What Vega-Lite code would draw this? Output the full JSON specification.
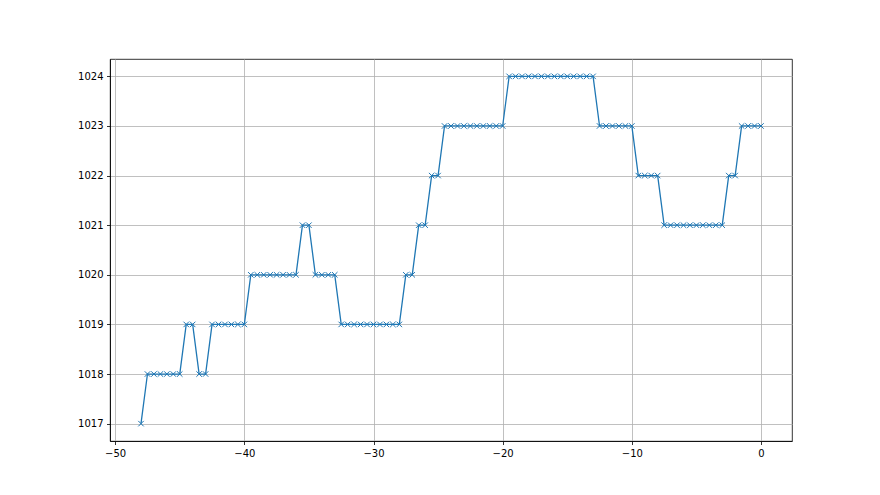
{
  "$schema": "https://vega.github.io/schema/vega-lite/v6.json",
  "autosize": {"type": "none"},
  "width": 682,
  "height": 382,
  "padding": {"left": 110, "top": 59, "right": 88, "bottom": 54},
  "background": "white",
  "config": {
    "view": {"stroke": "#000000", "strokeWidth": 0.8},
    "axis": {
      "labelFont": "DejaVu Sans",
      "labelFontSize": 10,
      "labelColor": "#000000",
      "domainColor": "#000000",
      "domainWidth": 0.8,
      "tickColor": "#000000",
      "tickSize": 3.5,
      "tickWidth": 0.8,
      "gridColor": "#b0b0b0",
      "gridWidth": 0.8,
      "labelPadding": 3.5,
      "title": null
    }
  },
  "data": {
    "values": [
      {"x": -48, "y": 1017},
      {"x": -47.5, "y": 1018}, {"x": -47, "y": 1018}, {"x": -46.5, "y": 1018}, {"x": -46, "y": 1018}, {"x": -45.5, "y": 1018}, {"x": -45, "y": 1018},
      {"x": -44.5, "y": 1019}, {"x": -44, "y": 1019},
      {"x": -43.5, "y": 1018}, {"x": -43, "y": 1018},
      {"x": -42.5, "y": 1019}, {"x": -42, "y": 1019}, {"x": -41.5, "y": 1019}, {"x": -41, "y": 1019}, {"x": -40.5, "y": 1019}, {"x": -40, "y": 1019},
      {"x": -39.5, "y": 1020}, {"x": -39, "y": 1020}, {"x": -38.5, "y": 1020}, {"x": -38, "y": 1020}, {"x": -37.5, "y": 1020}, {"x": -37, "y": 1020}, {"x": -36.5, "y": 1020}, {"x": -36, "y": 1020},
      {"x": -35.5, "y": 1021}, {"x": -35, "y": 1021},
      {"x": -34.5, "y": 1020}, {"x": -34, "y": 1020}, {"x": -33.5, "y": 1020}, {"x": -33, "y": 1020},
      {"x": -32.5, "y": 1019}, {"x": -32, "y": 1019}, {"x": -31.5, "y": 1019}, {"x": -31, "y": 1019}, {"x": -30.5, "y": 1019}, {"x": -30, "y": 1019}, {"x": -29.5, "y": 1019}, {"x": -29, "y": 1019}, {"x": -28.5, "y": 1019}, {"x": -28, "y": 1019},
      {"x": -27.5, "y": 1020}, {"x": -27, "y": 1020},
      {"x": -26.5, "y": 1021}, {"x": -26, "y": 1021},
      {"x": -25.5, "y": 1022}, {"x": -25, "y": 1022},
      {"x": -24.5, "y": 1023}, {"x": -24, "y": 1023}, {"x": -23.5, "y": 1023}, {"x": -23, "y": 1023}, {"x": -22.5, "y": 1023}, {"x": -22, "y": 1023}, {"x": -21.5, "y": 1023}, {"x": -21, "y": 1023}, {"x": -20.5, "y": 1023}, {"x": -20, "y": 1023},
      {"x": -19.5, "y": 1024}, {"x": -19, "y": 1024}, {"x": -18.5, "y": 1024}, {"x": -18, "y": 1024}, {"x": -17.5, "y": 1024}, {"x": -17, "y": 1024}, {"x": -16.5, "y": 1024}, {"x": -16, "y": 1024}, {"x": -15.5, "y": 1024}, {"x": -15, "y": 1024}, {"x": -14.5, "y": 1024}, {"x": -14, "y": 1024}, {"x": -13.5, "y": 1024}, {"x": -13, "y": 1024},
      {"x": -12.5, "y": 1023}, {"x": -12, "y": 1023}, {"x": -11.5, "y": 1023}, {"x": -11, "y": 1023}, {"x": -10.5, "y": 1023}, {"x": -10, "y": 1023},
      {"x": -9.5, "y": 1022}, {"x": -9, "y": 1022}, {"x": -8.5, "y": 1022}, {"x": -8, "y": 1022},
      {"x": -7.5, "y": 1021}, {"x": -7, "y": 1021}, {"x": -6.5, "y": 1021}, {"x": -6, "y": 1021}, {"x": -5.5, "y": 1021}, {"x": -5, "y": 1021}, {"x": -4.5, "y": 1021}, {"x": -4, "y": 1021}, {"x": -3.5, "y": 1021}, {"x": -3, "y": 1021},
      {"x": -2.5, "y": 1022}, {"x": -2, "y": 1022},
      {"x": -1.5, "y": 1023}, {"x": -1, "y": 1023}, {"x": -0.5, "y": 1023}, {"x": 0, "y": 1023}
    ]
  },
  "encoding": {
    "x": {
      "field": "x", "type": "quantitative",
      "scale": {"domain": [-50.4, 2.4], "nice": false, "zero": false},
      "axis": {"values": [-50, -40, -30, -20, -10, 0], "grid": true, "labelExpr": "replace(datum.label, '-', '\u2212')"}
    },
    "y": {
      "field": "y", "type": "quantitative",
      "scale": {"domain": [1016.65, 1024.35], "nice": false, "zero": false},
      "axis": {"values": [1017, 1018, 1019, 1020, 1021, 1022, 1023, 1024], "grid": true, "format": "d"}
    }
  },
  "layer": [
    {"mark": {"type": "line", "color": "#1f77b4", "strokeWidth": 1.3}},
    {"mark": {"type": "point", "shape": "M-1,-1L1,1M-1,1L1,-1", "filled": false, "color": "#1f77b4", "strokeWidth": 1, "size": 30, "opacity": 1}}
  ]
}
